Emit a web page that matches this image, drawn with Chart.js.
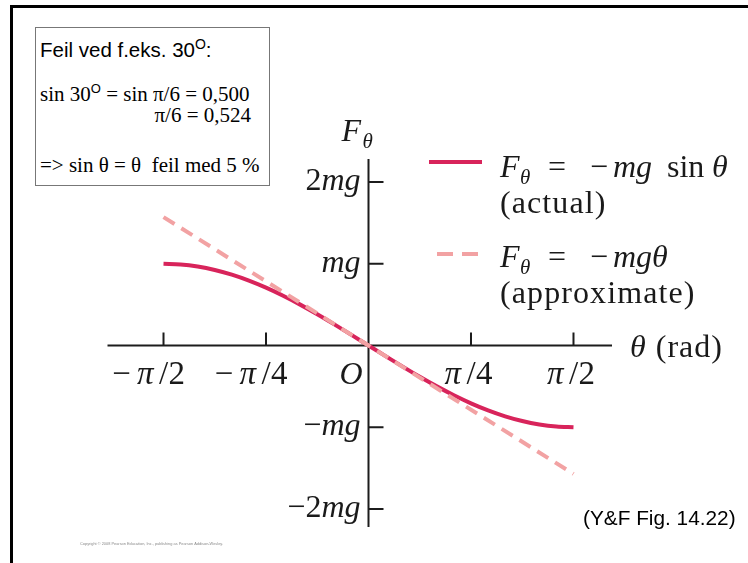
<!DOCTYPE html>
<html>
<head>
<meta charset="utf-8">
<script src="https://cdn.jsdelivr.net/npm/chart.js@4/dist/chart.umd.min.js"></script>
<style>
  html, body { margin: 0; padding: 0; background: #fff; }
  #wrap { position: relative; width: 748px; height: 563px; overflow: hidden; background: #fff; }
  #frame { position: absolute; left: 10px; top: 5px; width: 760px; height: 580px;
           border-left: 3px solid #000; border-top: 3px solid #000; }
  #plot { position: absolute; left: 0; top: 0; }
  #note { position: absolute; left: 35px; top: 27px; width: 233px; height: 157px;
          border: 1px solid #777; background: #fff; }
  .ln { position: absolute; white-space: pre; line-height: 1; color: #000; }
  .sans { font-family: Arial, "Liberation Sans", sans-serif; font-size: 20.5px; }
  .serif { font-family: "Times New Roman", "Liberation Serif", serif; font-size: 21px; }
  .sup { font-family: Arial, "Liberation Sans", sans-serif; font-size: 13px; position: relative; top: -8px; }
  #src { position: absolute; left: 583px; top: 508px; font-size: 20.8px; }
</style>
</head>
<body>
<div id="wrap">
  <div id="frame"></div>
  <canvas id="plot" width="748" height="563"></canvas>
  <div id="note">
    <div class="ln sans" style="left:4px;top:12px;">Feil ved f.eks. 30<span class="sup" style="font-size:14px;top:-8px;">O</span>:</div>
    <div class="ln serif" style="left:4px;top:56px;">sin 30<span class="sup">O</span> = sin π/6 = 0,500</div>
    <div class="ln serif" style="right:18px;top:77px;">π/6 = 0,524</div>
    <div class="ln serif" style="left:4px;top:127px;">=&gt; sin θ = θ  feil med 5 %</div>
  </div>
  <div id="src" class="ln sans">(Y&amp;F Fig. 14.22)</div>
</div>
<script>
// Angle samples (rad) and the exact restoring force F/mg = -sin(theta)
const THETA = [-1.5708, -1.4399, -1.3090, -1.1781, -1.0472, -0.9163, -0.7854, -0.6545,
               -0.5236, -0.3927, -0.2618, -0.1309, 0.0000, 0.1309, 0.2618, 0.3927,
               0.5236, 0.6545, 0.7854, 0.9163, 1.0472, 1.1781, 1.3090, 1.4399, 1.5708];
const F_ACTUAL = [1.0000, 0.9914, 0.9659, 0.9239, 0.8660, 0.7934, 0.7071, 0.6088,
                  0.5000, 0.3827, 0.2588, 0.1305, 0.0000, -0.1305, -0.2588, -0.3827,
                  -0.5000, -0.6088, -0.7071, -0.7934, -0.8660, -0.9239, -0.9659, -0.9914, -1.0000];

// Small-angle approximation F/mg = -theta (a straight line)
const THETA_APPROX = [-1.5708, 0.0000, 1.5708];
const F_APPROX = [1.5708, 0.0000, -1.5708];

// Axis ticks
const X_TICKS = [-1.5708, -0.7854, 0.7854, 1.5708];
const X_TICK_LABELS = ['−π/2', '−π/4', 'π/4', 'π/2'];
const Y_TICKS = [2, 1, -1, -2];
const Y_TICK_LABELS = ['2mg', 'mg', '−mg', '−2mg'];

// Extent of the drawn axis lines (in data units)
const X_AXIS_SPAN = [-2.0, 1.866];
const Y_AXIS_SPAN = [2.28, -2.22];

const SERIF = '"Times New Roman", "Liberation Serif", serif';

function font(style, size) {
  return (style === 'i' ? 'italic ' : '') + size + 'px ' + SERIF;
}

// Draw one piece of text at an absolute baseline position
function put(ctx, text, style, size, x, y, align) {
  ctx.font = font(style, size);
  ctx.textAlign = align || 'left';
  ctx.textBaseline = 'alphabetic';
  ctx.fillText(text, x, y);
  return ctx.measureText(text).width;
}

// Draw a row of runs [text, style] one after another; letters italic in 'i'
function drawRuns(ctx, runs, x, y, align, size) {
  let total = 0;
  const widths = runs.map(([t, st]) => {
    ctx.font = font(st, size);
    const w = ctx.measureText(t).width;
    total += w;
    return w;
  });
  let cx = align === 'right' ? x - total : align === 'center' ? x - total / 2 : x;
  runs.forEach(([t, st], i) => {
    put(ctx, t, st, size, cx, y);
    cx += widths[i];
  });
}

// Split a tick label into runs: letters and Greek italic, digits and symbols upright
function labelRuns(label) {
  const runs = [];
  for (const ch of label) {
    const st = /[A-Za-z\u03b1-\u03c9]/.test(ch) ? 'i' : 'r';
    if (runs.length && runs[runs.length - 1][1] === st) runs[runs.length - 1][0] += ch;
    else runs.push([ch, st]);
  }
  return runs;
}

// Fraction label such as −π/2, with the slash centred on the tick
function drawFraction(ctx, label, cx, y) {
  const size = 33;
  const [num, den] = label.split('/');
  put(ctx, '/', 'r', size, cx, y, 'center');
  put(ctx, den, 'r', size, cx + 5, y, 'left');
  const pw = put(ctx, 'π', 'i', size, cx - 10, y, 'right');
  if (num.startsWith('−')) put(ctx, '−', 'r', size, cx - 10 - pw - 6, y, 'right');
}

const axesPlugin = {
  id: 'pendulumAxes',
  beforeDatasetsDraw(chart) {
    const { ctx, scales: { x, y } } = chart;
    const x0 = x.getPixelForValue(0);
    const y0 = y.getPixelForValue(0);
    ctx.save();
    ctx.strokeStyle = '#1c1c1c';
    ctx.lineWidth = 2;
    ctx.beginPath();
    ctx.moveTo(x.getPixelForValue(X_AXIS_SPAN[0]), y0);
    ctx.lineTo(x.getPixelForValue(X_AXIS_SPAN[1]), y0);
    ctx.moveTo(x0, y.getPixelForValue(Y_AXIS_SPAN[0]));
    ctx.lineTo(x0, y.getPixelForValue(Y_AXIS_SPAN[1]));
    X_TICKS.forEach(v => {
      const px = x.getPixelForValue(v);
      ctx.moveTo(px, y0);
      ctx.lineTo(px, y0 - 13);
    });
    Y_TICKS.forEach(v => {
      const py = y.getPixelForValue(v);
      ctx.moveTo(x0, py);
      ctx.lineTo(x0 + 15, py);
    });
    ctx.stroke();
    ctx.restore();
  },
  afterDatasetsDraw(chart) {
    const { ctx, scales: { x, y } } = chart;
    const x0 = x.getPixelForValue(0);
    const y0 = y.getPixelForValue(0);
    ctx.save();
    ctx.fillStyle = '#1a1a1a';

    // tick labels
    X_TICKS.forEach((v, i) => drawFraction(ctx, X_TICK_LABELS[i], x.getPixelForValue(v), y0 + 38));
    put(ctx, 'O', 'i', 32, x0 - 6, y0 + 38, 'right');
    Y_TICKS.forEach((v, i) => {
      drawRuns(ctx, labelRuns(Y_TICK_LABELS[i]), x0 - 8, y.getPixelForValue(v) + 8, 'right', 32);
    });

    // axis titles
    put(ctx, 'F', 'i', 32, x0 - 27, y0 - 205);
    put(ctx, 'θ', 'i', 21, x0 - 6, y0 - 198);
    ctx.letterSpacing = '1px';
    drawRuns(ctx, [['θ', 'i'], [' (rad)', 'r']], x.getPixelForValue(X_AXIS_SPAN[1]) + 18, y0 + 11, 'left', 32);
    ctx.letterSpacing = '0px';

    // legend keys, styled from the datasets
    const ds = chart.data.datasets;
    const actual = ds.find(d => d.key === 'actual');
    const approx = ds.find(d => d.key === 'approx');
    ctx.lineWidth = 4;
    ctx.strokeStyle = actual.borderColor;
    ctx.beginPath();
    ctx.moveTo(429, 162);
    ctx.lineTo(482, 162);
    ctx.stroke();
    ctx.strokeStyle = approx.borderColor;
    ctx.setLineDash([16, 9]);
    ctx.beginPath();
    ctx.moveTo(437, 254);
    ctx.lineTo(482, 254);
    ctx.stroke();
    ctx.setLineDash([]);

    // legend texts
    const rows = [[177, 'mg'], [267, 'mgθ']];
    rows.forEach(([by, tail], r) => {
      put(ctx, 'F', 'i', 32, 500, by);
      put(ctx, 'θ', 'i', 21, 520, by + 7);
      put(ctx, '=', 'r', 32, 548, by);
      put(ctx, '−', 'r', 32, 590, by);
      put(ctx, tail, 'i', 32, 613, by);
      if (r === 0) {
        put(ctx, 'sin', 'r', 32, 667, by);
        put(ctx, 'θ', 'i', 32, 712, by);
      }
    });
    ctx.letterSpacing = '1.1px';
    put(ctx, '(actual)', 'r', 32, 500, 213);
    put(ctx, '(approximate)', 'r', 32, 500, 303);
    ctx.letterSpacing = '0px';

    // publisher line
    ctx.font = '3.9px Arial, "Liberation Sans", sans-serif';
    ctx.fillStyle = '#8a8a8a';
    ctx.textAlign = 'left';
    ctx.fillText('Copyright © 2008 Pearson Education, Inc., publishing as Pearson Addison-Wesley.', 80, 545);
    ctx.restore();
  }
};

new Chart(document.getElementById('plot'), {
  type: 'line',
  data: {
    datasets: [
      {
        key: 'approx',
        data: THETA_APPROX.map((t, i) => ({ x: t, y: F_APPROX[i] })),
        borderColor: '#f2a2a3',
        borderWidth: 4,
        borderDash: [13, 8],
        pointRadius: 0,
        fill: false,
        order: 0
      },
      {
        key: 'actual',
        data: THETA.map((t, i) => ({ x: t, y: F_ACTUAL[i] })),
        borderColor: '#d8245b',
        borderWidth: 4,
        pointRadius: 0,
        cubicInterpolationMode: 'monotone',
        fill: false,
        order: 1
      }
    ]
  },
  options: {
    responsive: false,
    animation: false,
    events: [],
    layout: { padding: { left: 107.5, right: 118.5, top: 149.3, bottom: 21.3 } },
    scales: {
      x: { type: 'linear', min: -2.0, max: 2.0, display: false },
      y: { type: 'linear', min: -2.4, max: 2.4, display: false }
    },
    plugins: { legend: { display: false }, tooltip: { enabled: false } }
  },
  plugins: [axesPlugin]
});
</script>
</body>
</html>
